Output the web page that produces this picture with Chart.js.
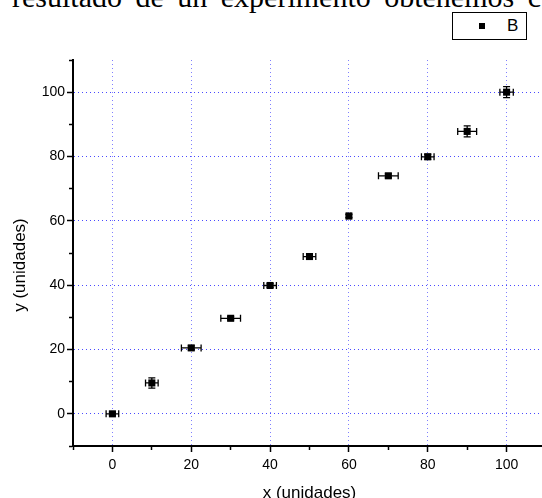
<!DOCTYPE html>
<html>
<head>
<meta charset="utf-8">
<script src="https://cdn.jsdelivr.net/npm/chart.js@4"></script>
<style>
    body { margin: 0; overflow: hidden; background: #fff; }
    #wrap { position: absolute; left: 0; top: 0; width: 551px; height: 498px; }
    #texto { position: absolute; left: 12px; top: -18px; white-space: nowrap;
        font: 30px "Liberation Serif", "Times New Roman", serif; color: #000;
        word-spacing: 6px; line-height: 30px; }
    #leyenda { position: absolute; left: 452px; top: 12px; width: 75px; height: 28px;
        box-sizing: border-box; border: 1px solid #000; background: #fff;
        font: 17px "Liberation Sans", Arial, sans-serif; }
    #leyenda .marca { position: absolute; left: 26px; top: 10px; width: 6px; height: 6px; background: #000; }
    #leyenda .nombre { position: absolute; left: 54px; top: 3px; }
</style>
</head>
<body>
<div id="texto">resultado de un experimento obtenemos c</div>
<div id="wrap"><canvas id="grafico" width="551" height="498"></canvas></div>
<div id="leyenda"><span class="marca"></span><span class="nombre">B</span></div>
<script>
// datos
const xValues = [0, 10, 20, 30, 40, 50, 60, 70, 80, 90, 100];
const yValues = [0, 9.6, 20.5, 29.7, 39.9, 48.9, 61.5, 74.0, 79.9, 87.8, 100];
const xErrors = [1.6, 1.6, 2.5, 2.5, 1.6, 1.6, 0.5, 2.5, 1.6, 2.4, 1.7];
const yErrors = [0.5, 1.6, 0.6, 0.5, 0.6, 0.5, 0.5, 0.6, 0.8, 1.7, 1.7];
const serieNombre = 'B';
const xTitulo = 'x (unidades)';
const yTitulo = 'y (unidades)';

const fuente = '"Liberation Sans", Arial, sans-serif';

function esMayor(v) {
    return v % 20 === 0 && v >= 0 && v <= 100;
}

// barras de error dibujadas con las escalas del grafico
const barrasError = {
    id: 'barrasError',
    beforeDatasetsDraw(chart) {
        const {ctx, scales: {x, y}} = chart;
        const cap = 3.5;
        ctx.save();
        ctx.strokeStyle = '#000';
        ctx.lineWidth = 1.3;
        xValues.forEach((xv, i) => {
            const px = x.getPixelForValue(xv);
            const py = y.getPixelForValue(yValues[i]);
            const xl = x.getPixelForValue(xv - xErrors[i]);
            const xr = x.getPixelForValue(xv + xErrors[i]);
            const yt = y.getPixelForValue(yValues[i] + yErrors[i]);
            const yb = y.getPixelForValue(yValues[i] - yErrors[i]);
            ctx.beginPath();
            ctx.moveTo(xl, py); ctx.lineTo(xr, py);
            ctx.moveTo(xl, py - cap); ctx.lineTo(xl, py + cap);
            ctx.moveTo(xr, py - cap); ctx.lineTo(xr, py + cap);
            ctx.moveTo(px, yt); ctx.lineTo(px, yb);
            ctx.moveTo(px - cap, yt); ctx.lineTo(px + cap, yt);
            ctx.moveTo(px - cap, yb); ctx.lineTo(px + cap, yb);
            ctx.stroke();
        });
        ctx.restore();
    }
};

// titulos de los ejes
const titulos = {
    id: 'titulos',
    afterDraw(chart) {
        const {ctx, chartArea} = chart;
        ctx.save();
        ctx.fillStyle = '#000';
        ctx.font = '17px ' + fuente;
        ctx.textAlign = 'center';
        ctx.textBaseline = 'alphabetic';
        ctx.fillText(xTitulo, (chartArea.left + chartArea.right) / 2, 498);
        ctx.translate(25, 265);
        ctx.rotate(-Math.PI / 2);
        ctx.fillText(yTitulo, 0, 0);
        ctx.restore();
    }
};

function ejeOpciones(colorRejilla, dashMenor, offsetMenor) {
    return {
        type: 'linear',
        min: -10,
        max: 110,
        ticks: {
            stepSize: 10,
            autoSkip: false,
            maxRotation: 0,
            color: '#000',
            font: {family: fuente, size: 14},
            callback: (v) => esMayor(v) ? v : ''
        },
        grid: {
            color: (c) => (c.tick && esMayor(c.tick.value)) ? colorRejilla : 'rgba(0,0,0,0)',
            lineWidth: 1,
            tickColor: '#000',
            tickWidth: 1.5,
            tickLength: 6,
            tickBorderDash: (c) => (c.tick && c.tick.value % 20 !== 0) ? dashMenor : [],
            tickBorderDashOffset: (c) => (c.tick && c.tick.value % 20 !== 0) ? offsetMenor : 0
        },
        border: {color: '#000', width: 2, dash: [1, 3]}
    };
}

const ejeX = ejeOpciones('#8080ff', [3, 10], 0);
ejeX.ticks.padding = 5;
ejeX.afterFit = (scale) => { scale.height = 52; };

const ejeY = ejeOpciones('#4a4aff', [3, 2], 3);
ejeY.ticks.padding = 2;
ejeY.afterFit = (scale) => { scale.width = 73; };

new Chart(document.getElementById('grafico'), {
    type: 'scatter',
    data: {
        datasets: [{
            label: serieNombre,
            data: xValues.map((v, i) => ({x: v, y: yValues[i]})),
            pointStyle: 'rect',
            pointRadius: 5,
            pointHoverRadius: 5,
            backgroundColor: '#000',
            borderColor: '#000',
            borderWidth: 0
        }]
    },
    options: {
        responsive: false,
        animation: false,
        layout: {padding: {top: 60, left: 0, right: 0, bottom: 0}},
        plugins: {
            legend: {display: false},
            tooltip: {enabled: false}
        },
        scales: {x: ejeX, y: ejeY}
    },
    plugins: [barrasError, titulos]
});
</script>
</body>
</html>
